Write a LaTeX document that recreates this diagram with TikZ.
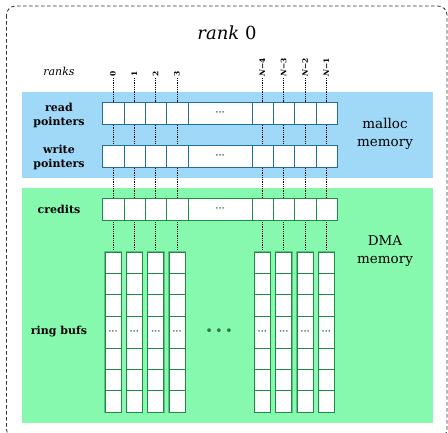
\documentclass[tikz,border=0pt]{standalone}
\usepackage{fontspec}
\setmainfont{DejaVu Serif}
\definecolor{bandblue}{HTML}{A0D9F8}
\definecolor{bandgreen}{HTML}{86F9AE}
\definecolor{edgeblue}{HTML}{1F6E9C}
\definecolor{edgegreen}{HTML}{1E8C45}
\definecolor{colgreen}{HTML}{55C47C}
\definecolor{dotblue}{HTML}{3A5F78}
\definecolor{dotgreen}{HTML}{2E7A4C}
\newcommand{\celldots}{\textbf{\fontsize{9}{9}\selectfont ···}}
\tikzset{
  cellb/.style={draw=edgeblue, fill=white, line width=0.8pt, minimum width=21.35pt, minimum height=21.5pt, inner sep=0pt, anchor=north west},
  cellg/.style={draw=edgegreen, fill=white, line width=0.8pt, minimum width=21.35pt, minimum height=21.5pt, inner sep=0pt, anchor=north west},
  ringcell/.style={draw=edgegreen, fill=white, line width=0.7pt, minimum width=16pt, minimum height=21.33pt, inner sep=0pt, anchor=north},
  dotline/.style={line width=0.9pt, dash pattern=on 0.9pt off 0.9pt},
  lbl/.style={font=\bfseries\fontsize{11}{14}\selectfont, align=center, inner sep=0pt},
  memlbl/.style={font=\fontsize{13.5}{18.5}\selectfont, align=center, inner sep=0pt},
  rk/.style={font=\bfseries\fontsize{7.5}{8}\selectfont, rotate=90, anchor=west, inner sep=0pt},
}
\begin{document}
\begin{tikzpicture}[x=1pt,y=-1pt]
\useasboundingbox (0,0) rectangle (448,432);
\draw[line width=0.8pt, dash pattern=on 3.5pt off 2.5pt, rounded corners=9pt, black!80] (6.5,6) rectangle (447,438);
\fill[bandblue] (22,92) rectangle (433,178);
\fill[bandgreen] (22,188) rectangle (433,422.7);
% dotted connectors
\foreach \c [count=\i] in {113,134.3,155.7,177,262.4,283.7,305.1,326.4}
  \draw[dotline] (\c,78) -- (\c,251.7);
% pointer rows
\foreach \l [count=\i] in {102.3,123.65,145,166.35,251.7,273.05,294.4,315.75}{
  \node[cellb] (rp\i) at (\l,102.3) {};
  \node[cellb] (wp\i) at (\l,145.3) {};
  \node[cellg] (cr\i) at (\l,198.3) {};
}
\node[cellb, minimum width=64pt, text=dotblue] (rpd) at (187.7,102.3) {\celldots};
\node[cellb, minimum width=64pt, text=dotblue] (wpd) at (187.7,145.3) {\celldots};
\node[cellg, minimum width=64pt, text=dotgreen] (crd) at (187.7,198.3) {\celldots};
% ring buffers
\foreach \c [count=\i] in {113,134.3,155.7,177,262.4,283.7,305.1,326.4}{
  \draw[colgreen, line width=1.6pt] (\c-8,251.7) rectangle (\c+8,411.7);
  \node[ringcell] (rb\i a) at (\c,251.7) {};
  \node[ringcell] (rb\i b) at (\c,273.03) {};
  \node[ringcell] (rb\i c) at (\c,294.37) {};
  \node[ringcell, minimum height=32pt, text=dotgreen] (rb\i d) at (\c,315.7) {\celldots};
  \node[ringcell] (rb\i e) at (\c,347.7) {};
  \node[ringcell] (rb\i f) at (\c,369.03) {};
  \node[ringcell] (rb\i g) at (\c,390.37) {};
}
\node[text=dotgreen, font=\fontsize{13}{13}\selectfont] (bigdots) at (219,331.7) {•\,•\,•};
% rank labels
\node[rk] (k0) at (113,77) {0};
\node[rk] (k1) at (134.3,77) {1};
\node[rk] (k2) at (155.7,77) {2};
\node[rk] (k3) at (177,77) {3};
\node[rk] (k4) at (262.4,77) {\itshape N\upshape −4};
\node[rk] (k5) at (283.7,77) {\itshape N\upshape −3};
\node[rk] (k6) at (305.1,77) {\itshape N\upshape −2};
\node[rk] (k7) at (326.4,77) {\itshape N\upshape −1};
% texts
\node[font=\fontsize{18}{20}\selectfont] (title) at (227,33) {\textit{rank} 0};
\node[font=\itshape\fontsize{11}{12}\selectfont] (ranks) at (59,71) {ranks};
\node[lbl] (lread) at (59,115.5) {read\\pointers};
\node[lbl] (lwrite) at (59,157.5) {write\\pointers};
\node[lbl] (lcred) at (59,209) {credits};
\node[lbl] (lring) at (59,332) {ring bufs};
\node[memlbl] (lmalloc) at (385,134) {malloc\\memory};
\node[memlbl] (ldma) at (385,251) {DMA\\memory};
\end{tikzpicture}
\end{document}
